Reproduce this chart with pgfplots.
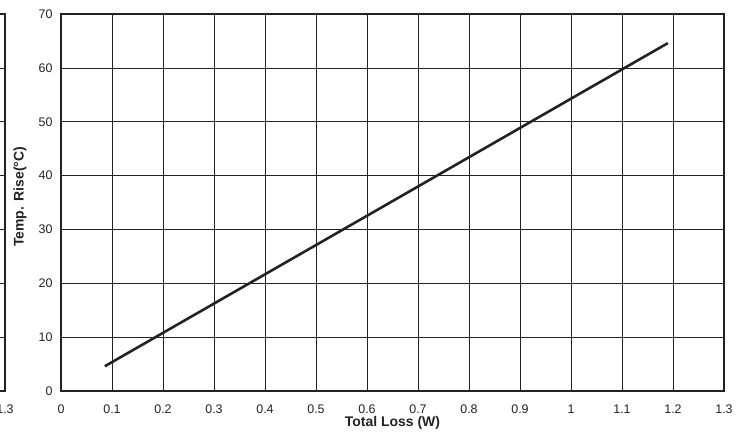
\documentclass[border=0pt]{standalone}
\usepackage{pgfplots}
\pgfplotsset{compat=1.18}
\usepackage{fontspec}
\setmainfont{Liberation Sans}
\definecolor{ink}{HTML}{222222}
\begin{document}
\begin{tikzpicture}
\pgfplotsset{
  common/.style={
    scale only axis, width=663bp, height=377bp,
    xmin=0, xmax=1.3, ymin=0, ymax=70,
    xtick={0,0.1,0.2,0.3,0.4,0.5,0.6,0.7,0.8,0.9,1,1.1,1.2,1.3},
    xticklabels={0,0.1,0.2,0.3,0.4,0.5,0.6,0.7,0.8,0.9,1,1.1,1.2,1.3},
    ytick={0,10,20,30,40,50,60,70},
    grid=major,
    major grid style={line width=0.7pt, color=ink},
    axis line style={line width=1.3pt, color=ink},
    major tick length=0pt,
    tick label style={font=\fontsize{12.5}{13}\selectfont, color=ink},
    xticklabel style={yshift=-10bp},
    yticklabel style={xshift=-5bp},
    /pgf/number format/assume math mode=true,
  }
}
% neighbouring chart, cut off at the left edge
\begin{axis}[common, at={(-719bp,0)}, anchor=south west]
\end{axis}
\begin{axis}[common,
    name=main, at={(0,0)}, anchor=south west,
    xlabel={Total Loss (W)}, ylabel={Temp. Rise(°C)},
    every axis x label/.style={at={(rel axis cs:0.5,0)}, yshift=-32bp, anchor=center,
      font=\bfseries\fontsize{14}{15}\selectfont, color=ink},
    every axis y label/.style={at={(rel axis cs:0,0.515)}, xshift=-41bp, rotate=90, anchor=center,
      font=\bfseries\fontsize{14}{15}\selectfont, color=ink},
  ]
\addplot[line width=2.6pt, color=ink] coordinates {(0.086,4.6) (1.190,64.6)};
\end{axis}
\pgfresetboundingbox
\useasboundingbox (-61bp,-46bp) rectangle (688bp,391bp);
\end{tikzpicture}
\end{document}
